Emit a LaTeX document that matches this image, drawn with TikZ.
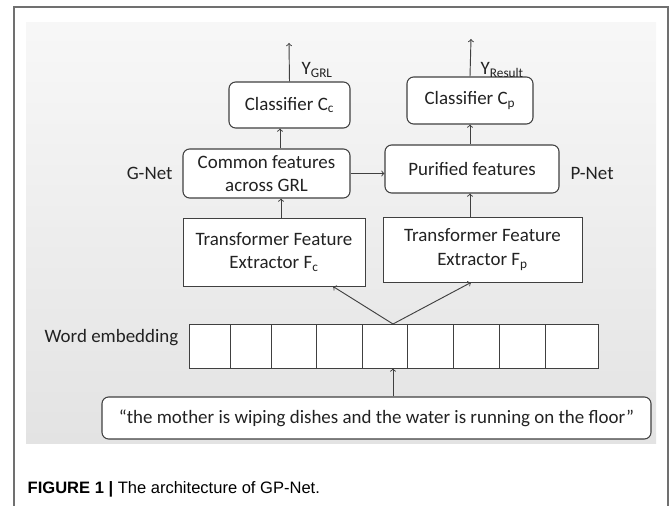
\documentclass[tikz,border=0pt]{standalone}
\usepackage{fontspec}
\setmainfont{Carlito}
\newfontfamily\capfont{Liberation Sans}
\usetikzlibrary{positioning}
\definecolor{inkgray}{HTML}{222222}
\definecolor{linegray}{HTML}{404040}
\definecolor{framegray}{HTML}{707070}
\begin{document}
\begin{tikzpicture}[x = 0.75pt, y = -0.75pt,
	font = \fontsize{14.2}{17.5}\selectfont, text = inkgray,
	box/.style = {draw = linegray, line width = 0.8pt, fill = white, rounded corners = 5pt, inner sep = 0pt, align = center},
	plainbox/.style = {draw = linegray, line width = 0.7pt, fill = white, inner sep = 0pt, align = center},
	cell/.style = {draw = linegray, line width = 0.7pt, fill = white, inner sep = 0pt, minimum height = 33pt},
	link/.style = {->, draw = linegray, line width = 0.7pt}]
	\useasboundingbox (0,0) rectangle (669,506);
	\draw[framegray, line width = 1.2pt] (14,506) -- (14,7) -- (668,7) -- (668,506);
	\fill[top color = white!97!black, bottom color = white!89!black] (26,23) rectangle (656,444);

	\node[box, minimum width = 90.75pt, minimum height = 34.5pt](cc) at (289.5,105) {Classifier C\textsubscript{c}};
	\node[box, minimum width = 94.5pt, minimum height = 35.25pt](cp) at (470,100.5) {Classifier C\textsubscript{p}};
	\node[box, minimum width = 125.25pt, minimum height = 36.75pt](common) at (266.5,173.5) {Common features\\across GRL};
	\node[box, minimum width = 130.5pt, minimum height = 36pt](purified) at (472,169) {Purified features};
	\node[plainbox, minimum width = 136.5pt, minimum height = 51pt](fc) at (274,252) {Transformer Feature\\Extractor F\textsubscript{c}};
	\node[plainbox, minimum width = 149.25pt, minimum height = 48.75pt](fp) at (482.5,249.5) {Transformer Feature\\Extractor F\textsubscript{p}};
	\node[box, minimum width = 411.75pt, minimum height = 31.5pt](sentence) at (376.5,418)
		{“the mother is wiping dishes and the water is running on the floor”};

	\foreach \l/\r [count = \i] in {189/230,230/271,271/316,316/362,362/407,407/453,453/499,499/545,545/598}
		\node[cell, minimum width = {(\r-\l)*0.75pt}](e\i) at ({(\l+\r)/2},346) {};

	\node[left = 4pt of common](gnet) {G-Net};
	\node[anchor = west](pnet) at (566,173) {P-Net};
	\node[anchor = base east](wordlab) at (183,343) {Word embedding};
	\node[anchor = base west](ygrl) at (297,75) {Y\textsubscript{GRL}};
	\node[anchor = base west](yres) at (476,75) {Y\textsubscript{Result}};

	\coordinate[](outc) at (289,43);
	\coordinate[](outp) at (471,39);
	\coordinate[](split) at (393,324);

	\draw[link] (cc.north) -- (outc);
	\draw[link] (cp.north) -- (outp);
	\draw[link] (common.north -| 280,0) -- (cc.south -| 280,0);
	\draw[link] (purified.north -| cp) -- (cp.south);
	\draw[link] (common.east) -- (purified.west |- common.east);
	\draw[link] (fc.north -| 281,0) -- (common.south -| 281,0);
	\draw[link] (fp.north -| 470,0) -- (purified.south -| 470,0);
	\draw[link] (split) -- (fc.south -| 333,0);
	\draw[link] (split) -- (fp.south -| 471,0);
	\draw[link] (sentence.north -| split) -- (e5.south -| split);

	\node[anchor = base west, text = black, font = {\capfont\fontsize{12.4}{14}\selectfont}](caption) at (23,494)
		{\textbf{FIGURE 1 |} The architecture of GP-Net.};
\end{tikzpicture}
\end{document}
